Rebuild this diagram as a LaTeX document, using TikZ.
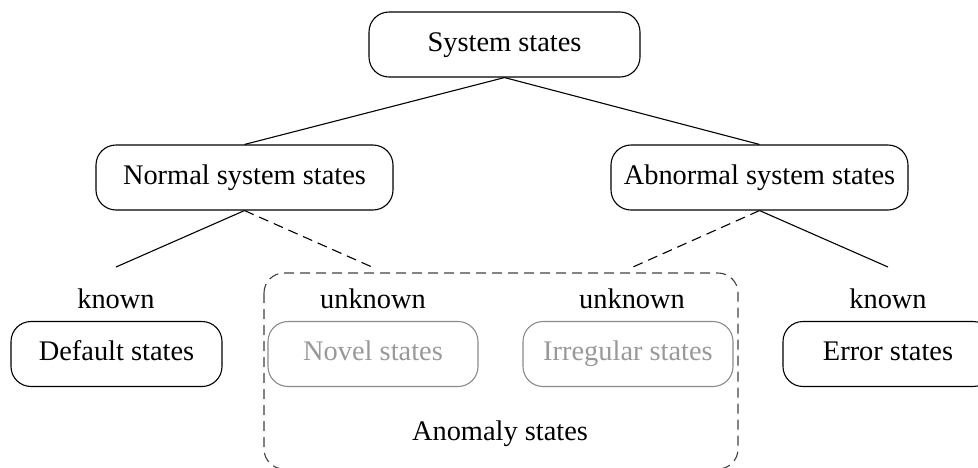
\documentclass[tikz,border=0pt]{standalone}
\usepackage{fontspec}
\setmainfont{Liberation Serif}
\definecolor{lightgraytext}{HTML}{999999}
\definecolor{lightgrayline}{HTML}{8A8A8A}
\definecolor{dashgray}{HTML}{404040}
\begin{document}
\begin{tikzpicture}[x=1pt,y=-1pt,
  font=\fontsize{28.4}{34}\selectfont,
  statebox/.style={draw=black, line width=1.1pt, rounded corners=20pt,
    minimum height=65pt, inner sep=0pt, text height=19pt, text depth=6pt},
  graybox/.style={statebox, draw=lightgrayline, text=lightgraytext},
  tag/.style={inner sep=0pt, anchor=base},
  link/.style={line width=1.1pt},
  dlink/.style={line width=1.1pt, dash pattern=on 10pt off 6pt}]
\useasboundingbox (0,0) rectangle (978,467);
\clip (0,0) rectangle (978,467);

\node[statebox, minimum width=271pt] (sys) at (504.5,44.5) {System states};
\node[statebox, minimum width=297pt] (normal) at (244.5,177.5) {Normal system states};
\node[statebox, minimum width=297pt] (abnormal) at (759.5,177.5) {Abnormal system states};

\coordinate (c1) at (116,267);
\coordinate (c2) at (372,267);
\coordinate (c3) at (633,267);
\coordinate (c4) at (888,267);

\draw[link] (sys.south) -- (normal.north);
\draw[link] (sys.south) -- (abnormal.north);
\draw[link] (normal.south) -- (c1);
\draw[dlink] (normal.south) -- (c2);
\draw[dlink] (abnormal.south) -- (c3);
\draw[link] (abnormal.south) -- (c4);

\node[tag] (k1) at (116,308) {known};
\node[tag] (u1) at (373,308) {unknown};
\node[tag] (u2) at (632,308) {unknown};
\node[tag] (k2) at (888,308) {known};

\node[statebox, minimum width=211pt] (default) at (116.5,354) {Default states};
\node[graybox, minimum width=210pt] (novel) at (373,354) {Novel states};
\node[graybox, minimum width=210pt] (irregular) at (628,354) {Irregular states};
\node[statebox, minimum width=210pt] (error) at (888,354) {Error states};

\draw[draw=dashgray, line width=1.1pt, dash pattern=on 10pt off 6pt, rounded corners=20pt]
  (264,273) rectangle (738,469);
\node[tag] (anomaly) at (500,440) {Anomaly states};
\end{tikzpicture}
\end{document}
